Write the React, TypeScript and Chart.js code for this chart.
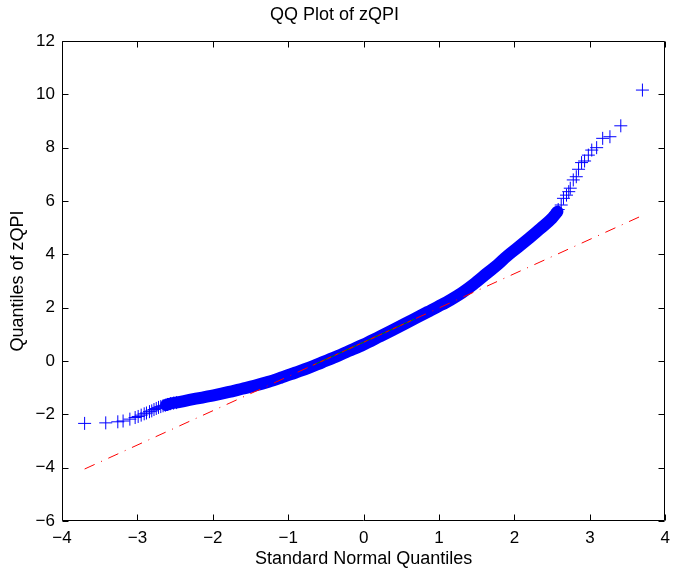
import React, { useEffect, useRef } from "react";
import { Chart, registerables } from "chart.js";

Chart.register(...registerables);

// Dense body of the QQ curve (standard normal quantile, sample quantile)
const bandX = [-2.62, -2.58, -2.45, -2.31, -2.16, -1.96, -1.8, -1.61, -1.45, -1.26, -1.1, -0.91, -0.73, -0.55, -0.4, -0.2, 0.0, 0.2, 0.37, 0.55, 0.7, 0.85, 1.0, 1.15, 1.3, 1.45, 1.64, 1.78, 1.9, 2.05, 2.2, 2.35, 2.5, 2.57];
const bandY = [-1.65, -1.61, -1.54, -1.46, -1.38, -1.27, -1.17, -1.04, -0.93, -0.78, -0.63, -0.44, -0.26, -0.05, 0.12, 0.37, 0.62, 0.9, 1.14, 1.4, 1.62, 1.84, 2.06, 2.29, 2.55, 2.86, 3.3, 3.62, 3.93, 4.27, 4.62, 4.98, 5.36, 5.6];

// Sparse tail points, drawn as individual '+' markers
const tailX = [-3.7, -3.42, -3.26, -3.19, -3.1, -3.03, -2.99, -2.95, -2.91, -2.88, -2.84, -2.81, -2.78, -2.75, -2.72, -2.69, -2.66, -2.63, -2.6, -2.56, -2.52, -2.48, 2.42, 2.46, 2.5, 2.53, 2.55, 2.58, 2.62, 2.65, 2.69, 2.72, 2.74, 2.78, 2.82, 2.85, 2.89, 2.93, 2.98, 3.025, 3.09, 3.17, 3.266, 3.41, 3.697];
const tailY = [-2.34, -2.32, -2.28, -2.25, -2.18, -2.12, -2.08, -2.03, -1.98, -1.95, -1.9, -1.87, -1.82, -1.78, -1.74, -1.71, -1.68, -1.66, -1.63, -1.6, -1.58, -1.56, 5.15, 5.25, 5.36, 5.45, 5.55, 5.68, 5.85, 6.1, 6.22, 6.35, 6.48, 6.79, 6.91, 7.19, 7.44, 7.5, 7.72, 7.91, 8.0, 8.35, 8.41, 8.82, 10.16];

// Reference line (through the quartiles, extended to the data range)
const refLineX = [-3.7, 3.7];
const refLineY = [-4.05, 5.46];
const quartileX = [-0.674, 0.674];
const quartileY = [-0.16, 1.57];

const xTicks = [-4, -3, -2, -1, 0, 1, 2, 3, 4];
const yTicks = [-6, -4, -2, 0, 2, 4, 6, 8, 10, 12];

const FONT = "'Liberation Sans', Arial, Helvetica, sans-serif";

const pts = (xs: number[], ys: number[]) => xs.map((x, i) => ({ x, y: ys[i] }));
const fmt = (v: number) => (v < 0 ? "\u2212" + Math.abs(v) : String(v));

const boxTicks = {
  id: "boxTicks",
  afterDraw(chart: any) {
    const { ctx, chartArea } = chart;
    const { left, right, top, bottom } = chartArea;
    const xs = chart.scales.x;
    const ys = chart.scales.y;
    ctx.save();
    ctx.strokeStyle = "#000";
    ctx.lineWidth = 1;
    ctx.beginPath();
    const L = Math.round(left) + 0.5;
    const R = Math.round(right) - 0.5;
    const T = Math.round(top) + 0.5;
    const B = Math.round(bottom) - 0.5;
    ctx.rect(L, T, R - L, B - T);
    const tl = 6;
    xTicks.forEach((v) => {
      const p = Math.round(xs.getPixelForValue(v)) + 0.5;
      ctx.moveTo(p, B);
      ctx.lineTo(p, B - tl);
      ctx.moveTo(p, T);
      ctx.lineTo(p, T + tl);
    });
    yTicks.forEach((v) => {
      const p = Math.round(ys.getPixelForValue(v)) + 0.5;
      ctx.moveTo(L, p);
      ctx.lineTo(L + tl, p);
      ctx.moveTo(R, p);
      ctx.lineTo(R - tl, p);
    });
    ctx.stroke();
    ctx.restore();
  },
};

export default function App() {
  const ref = useRef<HTMLCanvasElement | null>(null);
  useEffect(() => {
    document.body.style.margin = "0";
    if (!ref.current) return;
    const chart = new Chart(ref.current, {
      type: "scatter",
      data: {
        datasets: [
          {
            data: pts(quartileX, quartileY),
            showLine: true,
            borderColor: "#ff0000",
            borderWidth: 1,
            borderDash: [4, 4],
            pointRadius: 0,
            order: 0,
          },
          {
            data: pts(quartileX, quartileY),
            showLine: true,
            borderColor: "#008000",
            borderWidth: 1,
            pointRadius: 0,
            order: 1,
          },
          {
            data: pts(refLineX, refLineY),
            showLine: true,
            borderColor: "#ff0000",
            borderWidth: 1,
            borderDash: [11, 7, 1, 7],
            pointRadius: 0,
            order: 2,
          },
          {
            data: pts(tailX, tailY),
            pointStyle: "cross",
            pointRadius: 6.5,
            pointBorderWidth: 1,
            pointBorderColor: "#0000ff",
            pointBackgroundColor: "#0000ff",
            borderColor: "#0000ff",
            showLine: false,
            order: 3,
          },
          {
            data: pts(bandX, bandY),
            showLine: true,
            borderColor: "#0000ff",
            borderWidth: 12,
            borderCapStyle: "round",
            cubicInterpolationMode: "monotone",
            pointRadius: 0,
            order: 4,
          },
        ],
      },
      options: {
        animation: false,
        responsive: false,
        events: [],
        layout: { padding: { left: 0, right: 8, top: 0, bottom: 0 } },
        plugins: {
          legend: { display: false },
          tooltip: { enabled: false },
          title: {
            display: true,
            text: "QQ Plot of zQPI",
            color: "#000",
            font: { family: FONT, size: 18, weight: "normal" },
            padding: { top: 4, bottom: 15.4 },
          },
        },
        scales: {
          x: {
            type: "linear",
            min: -4,
            max: 4,
            afterFit: (s: any) => {
              s.height = 49;
            },
            afterBuildTicks: (s: any) => {
              s.ticks = xTicks.map((v) => ({ value: v }));
            },
            ticks: {
              color: "#000",
              font: { family: FONT, size: 17 },
              padding: 7,
              maxRotation: 0,
              autoSkip: false,
              callback: (v: any) => fmt(Number(v)),
            },
            grid: { display: false, drawTicks: false },
            border: { display: false },
            title: {
              display: true,
              text: "Standard Normal Quantiles",
              color: "#000",
              font: { family: FONT, size: 18 },
              padding: { top: 0, bottom: 0 },
            },
          },
          y: {
            type: "linear",
            min: -6,
            max: 12,
            afterFit: (s: any) => {
              s.width = 62;
            },
            afterBuildTicks: (s: any) => {
              s.ticks = yTicks.map((v) => ({ value: v }));
            },
            ticks: {
              color: "#000",
              font: { family: FONT, size: 17 },
              padding: 7,
              autoSkip: false,
              callback: (v: any) => fmt(Number(v)),
            },
            grid: { display: false, drawTicks: false },
            border: { display: false },
            title: {
              display: true,
              text: "Quantiles of zQPI",
              color: "#000",
              font: { family: FONT, size: 18 },
              padding: { top: 7, bottom: 0 },
            },
          },
        },
      },
      plugins: [boxTicks],
    } as any);
    return () => chart.destroy();
  }, []);
  return (
    <canvas
      ref={ref}
      width={677}
      height={570}
      style={{ display: "block", width: 677, height: 570 }}
    />
  );
}
